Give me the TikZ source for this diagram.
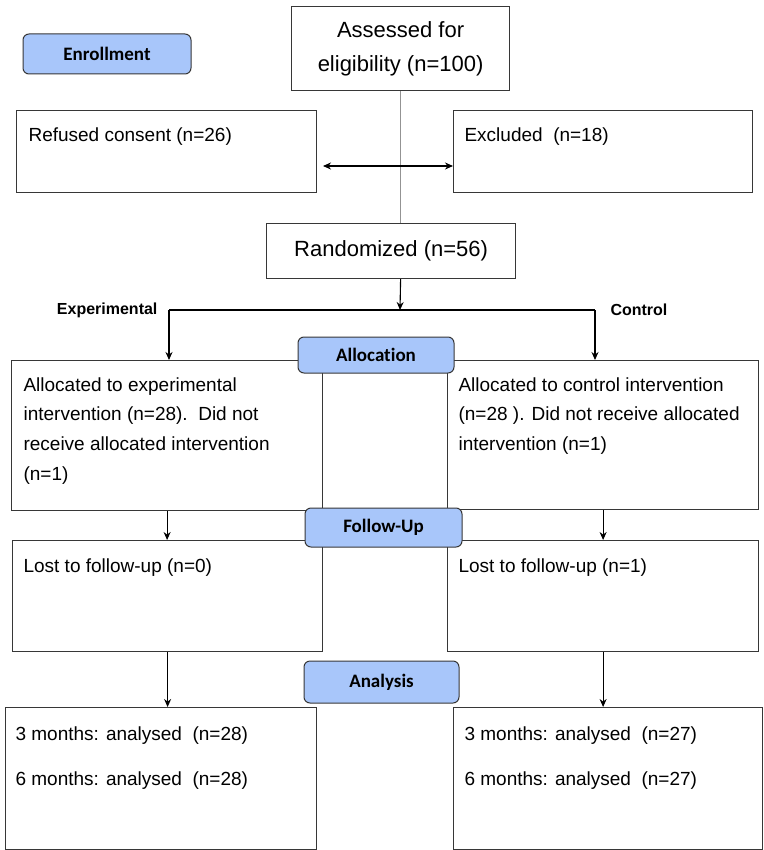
\documentclass[tikz,border=0pt]{standalone}
\usepackage{fontspec}
\setmainfont{Liberation Sans}
\newfontfamily\tabfont[Ligatures = NoCommon]{Carlito}
\usetikzlibrary{arrows.meta}
\definecolor{tabblue}{RGB}{168,198,250}
\definecolor{edgegray}{RGB}{55,55,55}

\begin{document}
\begin{tikzpicture}[x = 1pt, y = -1pt,
		box/.style 2 args = {draw = edgegray, line width = 1.2pt, anchor = north west, inner sep = 0pt, minimum width = #1, minimum height = #2},
		tab/.style 2 args = {draw = edgegray, line width = 1pt, fill = tabblue, rounded corners = 6pt, minimum width = #1, minimum height = #2, font = \tabfont\bfseries\fontsize{19}{22}\selectfont},
		txt/.style = {anchor = north west, inner sep = 0pt, align = left, font = \fontsize{19}{29.6}\selectfont},
		big/.style = {align = center, font = \fontsize{22}{34}\selectfont},
		arm/.style = {inner sep = 0pt, font = \bfseries\fontsize{16}{18}\selectfont},
		>={Stealth[length = 8pt, width = 7pt]}, line width = 1.1pt
	]
	\useasboundingbox (0,0) rectangle (763,850);

	% screening
	\node [box = {218}{84}, big] (assess) at (291,6) {Assessed for\\eligibility (n=100)};
	\node [box = {300}{82}] (refused) at (16,110) {};
	\node [box = {299}{82}] (excluded) at (453,110) {};
	\node [box = {249}{55}, big] (random) at (266,223) {Randomized (n=56)};
	\node [txt] (refusedtext) at (28,127) {Refused consent (n=26)};
	\node [txt] (excludedtext) at (464,127) {Excluded\ \ (n=18)};

	\draw [gray!85, line width = 1.4pt] (assess.south) -- (assess.south |- random.north);
	\coordinate (crossL) at (323,166);
	\draw [<->] (crossL) -- (crossL -| excluded.west);

	% arms
	\node [box = {311}{150}] (allocL) at (11,360) {};
	\node [box = {311}{149}] (allocR) at (447,360) {};
	\node [box = {310}{111}] (followL) at (12,540) {};
	\node [box = {311}{111}] (followR) at (447,540) {};
	\node [box = {311}{142}] (analysisL) at (5,707) {};
	\node [box = {309}{142}] (analysisR) at (453,707) {};

	\node [txt] (allocLtext) at (23,377) {Allocated to experimental\\intervention (n=28).\ \ Did not\\receive allocated intervention\\(n=1)};
	\node [txt] (allocRtext) at (458,377) {Allocated to control intervention\\(n=28 ). Did not receive allocated\\intervention (n=1)};
	\node [txt] (followLtext) at (23,558) {Lost to follow-up (n=0)};
	\node [txt] (followRtext) at (458,558) {Lost to follow-up (n=1)};
	\node [txt, font = \fontsize{19}{45}\selectfont] (analysisLtext) at (15,726) {3 months: analysed\ \ (n=28)\\6 months: analysed\ \ (n=28)};
	\node [txt, font = \fontsize{19}{45}\selectfont] (analysisRtext) at (464,726) {3 months: analysed\ \ (n=27)\\6 months: analysed\ \ (n=27)};

	\coordinate (branch) at (400,310);
	\coordinate (expt) at (169,310);
	\coordinate (ctrl) at (595,310);
	\draw [->] (random.south -| assess.south) -- (branch);
	\draw (expt) -- (ctrl);
	\draw [->] (expt) -- (expt |- allocL.north);
	\draw [->] (ctrl) -- (ctrl |- allocR.north);
	\node [arm, anchor = east] (expttext) at ([xshift = -11pt]expt) {Experimental};
	\node [arm, anchor = west] (ctrltext) at ([xshift = 15pt]ctrl) {Control};

	\draw [->] (allocL.south) -- (allocL.south |- followL.north);
	\draw [->] (allocR.south) -- (allocR.south |- followR.north);
	\draw [->] (followL.south) -- (followL.south |- analysisL.north);
	\draw [->] (followR.south) -- (followR.south |- analysisR.north);

	% stage tabs
	\foreach \tabname/\x/\y/\w/\h/\tabtext in {enrol/107/54/168/40/Enrollment, alloc/376/355/156/36/Allocation, follow/383.5/527.5/157/39/Follow-Up, analysis/381.5/682/155/42/Analysis}
	{
		\node [tab = {\w}{\h}] (\tabname) at (\x,\y) {\tabtext};
	}
\end{tikzpicture}
\end{document}
